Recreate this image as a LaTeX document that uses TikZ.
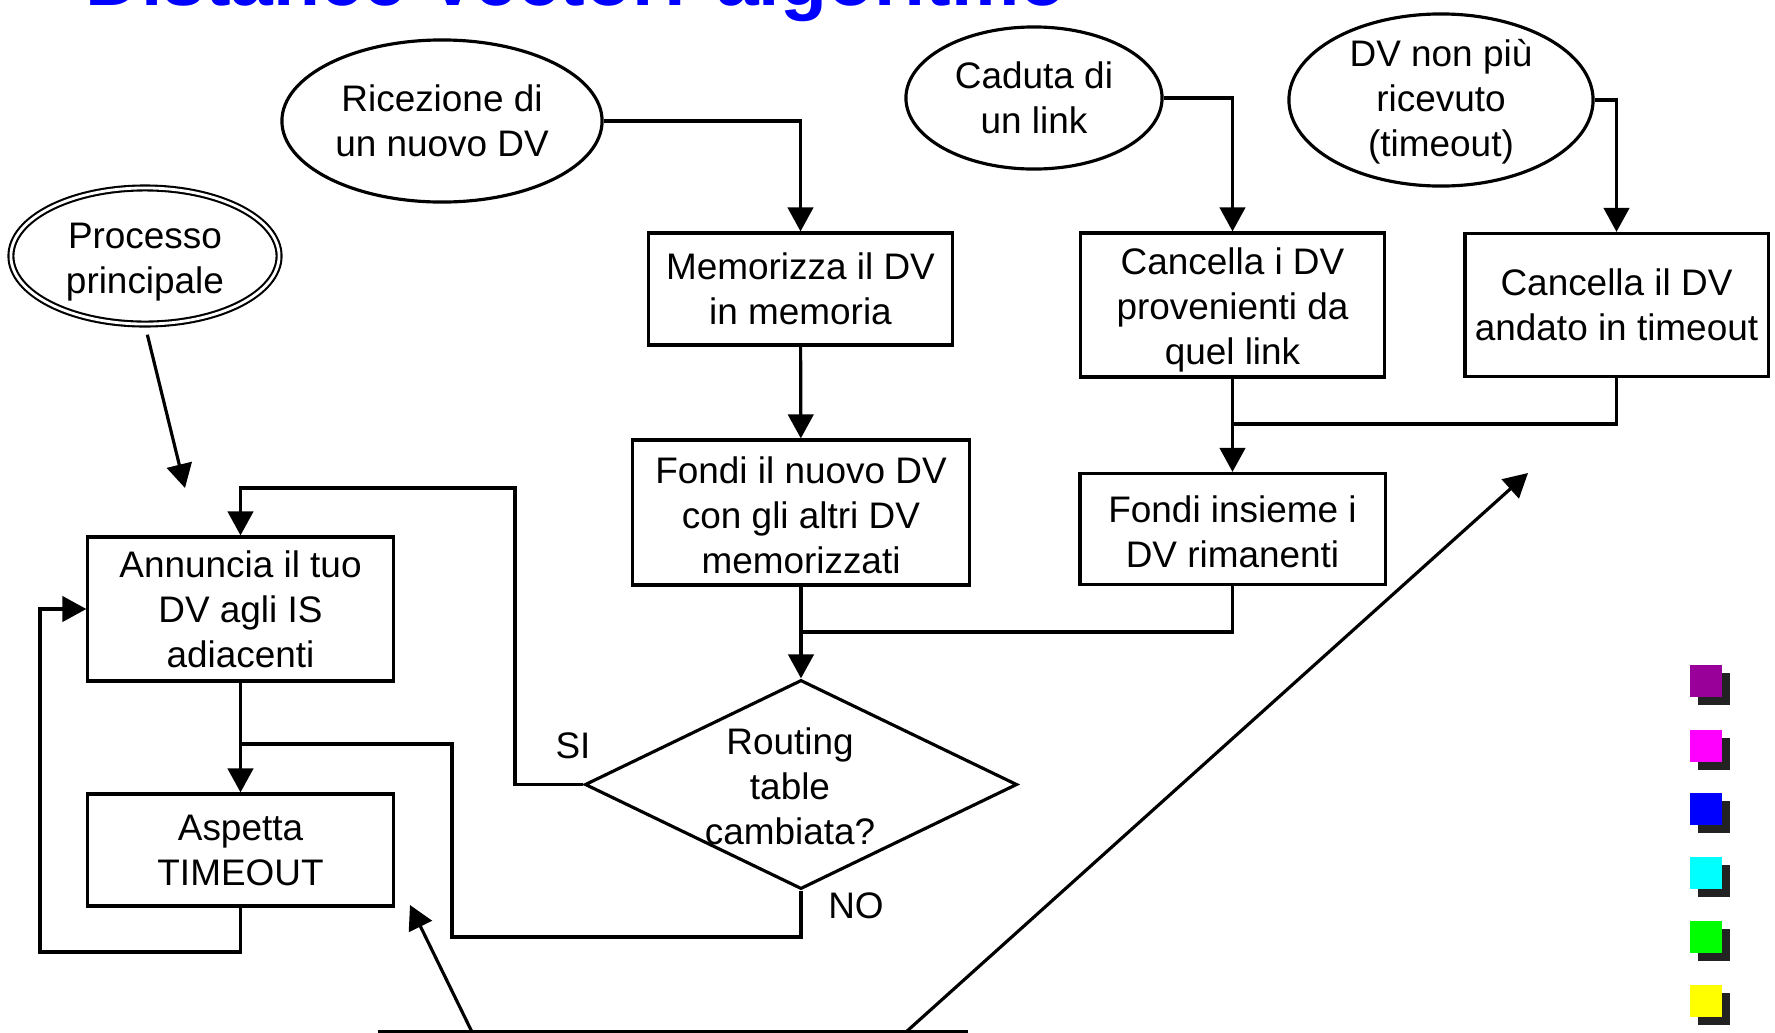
\documentclass[tikz,border=0pt]{standalone}
\usepackage{fontspec}
\setmainfont{Liberation Sans}
\usetikzlibrary{shapes.geometric,arrows.meta}
\definecolor{titleblue}{RGB}{0,0,255}
\definecolor{sqpurple}{RGB}{153,0,153}
\definecolor{sqmagenta}{RGB}{255,0,255}
\definecolor{sqblue}{RGB}{0,0,255}
\definecolor{sqcyan}{RGB}{0,255,255}
\definecolor{sqgreen}{RGB}{0,255,0}
\definecolor{sqyellow}{RGB}{255,255,0}
\definecolor{sqshadow}{RGB}{34,34,34}
\begin{document}
\begin{tikzpicture}[x=0.01cm,y=-0.01cm,
  every node/.style={font=\fontsize{10.5pt}{12.8pt}\selectfont, align=center, inner sep=0pt},
  ln/.style={line width=0.9pt, line join=miter},
  arr/.style={ln, -{Triangle[length=6.8pt,width=7.2pt]}},
  box/.style={draw, line width=0.9pt, rectangle},
  ell/.style={draw, line width=0.9pt, ellipse},
  dell/.style={draw, ellipse, line width=0.6pt, double, double distance=0.8pt},
]
\clip (0,0) rectangle (1775,1033);

% title (cut at the top)
\node[anchor=base west, font=\fontsize{21.85pt}{24pt}\bfseries\selectfont, text=titleblue] (title) at (85,5) {Distance Vector: algoritmo};

% start events
\node[dell, minimum width=2.68cm, minimum height=1.36cm] (pp) at (145,256) {};
\node (pptxt) at (145,262) {Processo\\principale};
\node[ell, minimum width=3.2cm, minimum height=1.62cm] (ric) at (442,121) {Ricezione di\\un nuovo DV};
\node[ell, minimum width=2.56cm, minimum height=1.42cm] (cad) at (1034,98) {Caduta di\\un link};
\node[ell, minimum width=3.04cm, minimum height=1.72cm] (dvn) at (1441,100) {};
\node (dvntxt) at (1441,102) {DV non più\\ricevuto\\(timeout)};

% boxes
\node[box, minimum width=3.04cm, minimum height=1.12cm] (mem) at (800.5,289) {Memorizza il DV\\in memoria};
\node[box, minimum width=3.37cm, minimum height=1.45cm] (fon) at (801,512.5) {};
\node (fontxt) at (801,515) {Fondi il nuovo DV\\con gli altri DV\\memorizzati};
\node[box, minimum width=3.04cm, minimum height=1.44cm] (can1) at (1232.5,305) {};
\node (can1txt) at (1232.5,309.5) {Cancella i DV\\provenienti da\\quel link};
\node[box, minimum width=3.03cm, minimum height=1.43cm] (can2) at (1616.5,305) {Cancella il DV\\andato in timeout};
\node[box, minimum width=3.05cm, minimum height=1.11cm] (fin) at (1232.5,529) {};
\node (fintxt) at (1232.5,531.5) {Fondi insieme i\\DV rimanenti};
\node[box, minimum width=3.05cm, minimum height=1.44cm] (ann) at (240.5,609) {Annuncia il tuo\\DV agli IS\\adiacenti};
\node[box, minimum width=3.05cm, minimum height=1.12cm] (asp) at (240.5,850) {Aspetta\\TIMEOUT};

% decision
\node[diamond, draw, line width=0.9pt, minimum width=4.32cm, minimum height=2.09cm] (dec) at (801,784.5) {};
\node (dectxt) at (790,786) {Routing\\table\\cambiata?};
\node (si) at (573,746) {SI};
\node (no) at (856,906) {NO};

% helper coordinates
\coordinate (j1) at (801,632);
\coordinate (j2) at (1232.5,424);
\coordinate (siup) at (515,488);
\coordinate (nodn) at (452,937);
\coordinate (j3) at (240.5,744);
\coordinate (loop) at (40,952);
\coordinate (ppt) at (185,488);
\coordinate (b1) at (378,1032);
\coordinate (b2) at (968,1032);
\coordinate (ba) at (472,1032);
\coordinate (bat) at (410,905);
\coordinate (bb) at (906,1032);
\coordinate (bbt) at (1528,473);

% connectors
\draw[arr] (ric.east) -| (mem.north);
\draw[arr] (mem) -- (fon);
\draw[arr] (fon) -- (dec);
\draw[ln] (fin.south) |- (j1);
\draw[arr] (cad.east) -| (can1.north);
\draw[arr] (dvn.east) -| (can2.north);
\draw[arr] (can1) -- (fin);
\draw[ln] (can2.south) |- (j2);
\draw[arr] (dec.west) -| (siup) -| (ann.north);
\draw[ln] (dec.south) |- (nodn) |- (j3);
\draw[arr] (ann) -- (asp);
\draw[arr] (asp.south) |- (loop) |- (ann.west);
\draw[arr, shorten <=2.8pt] (pp.south) -- (ppt);
\draw[ln] (b1) -- (b2);
\draw[arr] (ba) -- (bat);
\draw[arr] (bb) -- (bbt);

% coloured squares
\foreach \c/\yy in {sqpurple/665, sqmagenta/730, sqblue/793, sqcyan/857, sqgreen/921, sqyellow/985}{
  \fill[sqshadow] (1698,\yy+8) rectangle (1730,\yy+40);
  \fill[\c] (1690,\yy) rectangle (1722,\yy+32);
}
\end{tikzpicture}
\end{document}
